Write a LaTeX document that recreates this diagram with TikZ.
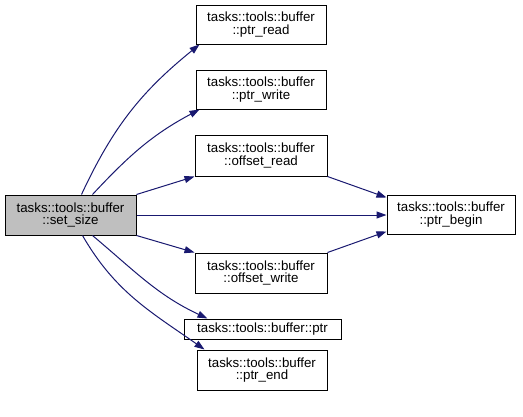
\documentclass[tikz,border=0pt]{standalone}
\usepackage{fontspec}
\setmainfont{Liberation Sans}
\usetikzlibrary{arrows.meta}
\definecolor{edgeblue}{HTML}{191970}
\definecolor{nodegray}{HTML}{BFBFBF}
\begin{document}
\begin{tikzpicture}[x=1pt,y=-1pt,
  box/.style={draw=black,line width=1pt,fill=white,inner sep=0pt,align=center,
    font=\fontsize{13.3}{12.6}\selectfont,minimum height=40pt},
  edge/.style={draw=edgeblue,line width=1pt,-{Triangle[length=10pt,width=7pt]}}]
\useasboundingbox (0,0) rectangle (523,416);
\node[box,fill=nodegray,minimum width=131pt] (set) at (70.5,215) {tasks::tools::buffer\\::set\_size};
\node[box,minimum width=130pt,minimum height=39pt] (pr) at (261,24.5) {tasks::tools::buffer\\::ptr\_read};
\node[box,minimum width=130pt,minimum height=39pt] (pw) at (261,89.5) {tasks::tools::buffer\\::ptr\_write};
\node[box,minimum width=132pt,minimum height=41pt] (or) at (261,155.5) {tasks::tools::buffer\\::offset\_read};
\node[box,minimum width=128pt,minimum height=39pt] (pb) at (451,214.5) {tasks::tools::buffer\\::ptr\_begin};
\node[box,minimum width=132pt] (ow) at (261,273) {tasks::tools::buffer\\::offset\_write};
\node[box,minimum width=157pt,minimum height=20pt] (p) at (262.5,329) {tasks::tools::buffer::ptr};
\node[box,minimum width=130pt] (pe) at (262,370) {tasks::tools::buffer\\::ptr\_end};
\draw[edge] ([xshift=77pt]set.north west) to[out=65,in=219] ([xshift=4pt]pr.south west);
\draw[edge] ([xshift=88pt]set.north west) to[out=47,in=208] ([xshift=4pt]pw.south west);
\draw[edge] (set.north east) -- (or.south west);
\draw[edge] (set.east) -- (set.east -| pb.west);
\draw[edge] (set.south east) -- (ow.north west);
\draw[edge] ([xshift=88pt]set.south west) to[out=-40,in=155] ([xshift=24pt]p.north west);
\draw[edge] ([xshift=78pt]set.south west) to[out=-60,in=145] ([xshift=8pt]pe.north west);
\draw[edge] (or.south east) -- ([yshift=-3pt]pb.north west);
\draw[edge] (ow.north east) -- ([yshift=3pt]pb.south west);
\end{tikzpicture}
\end{document}
